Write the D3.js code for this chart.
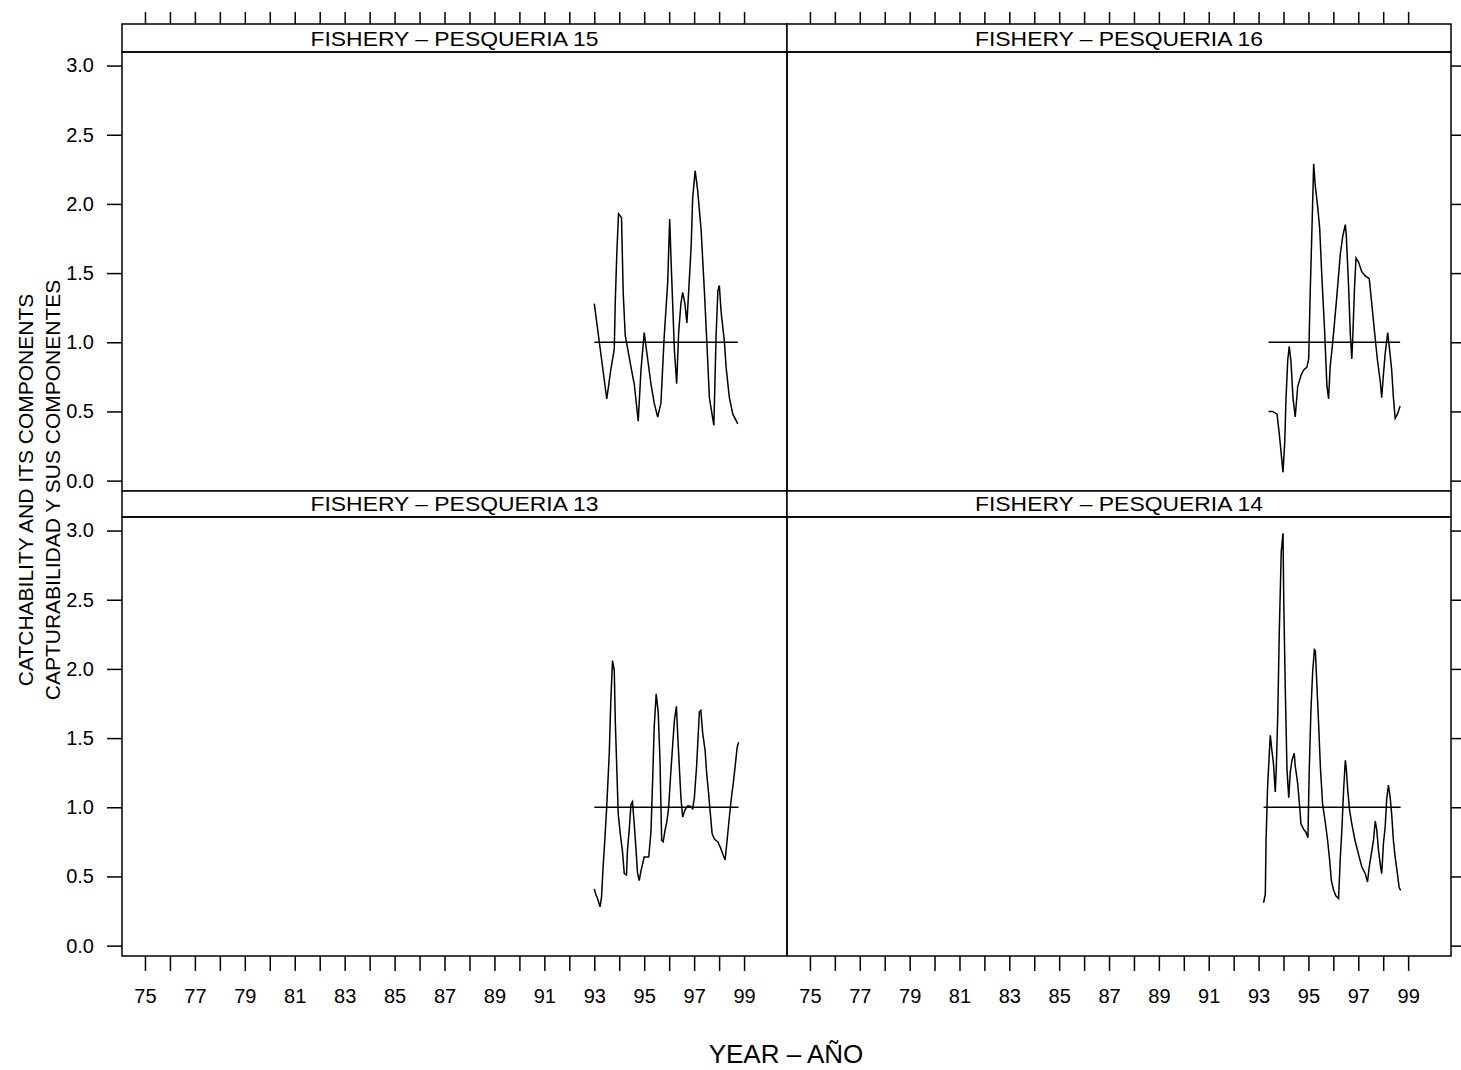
<!DOCTYPE html>
<html>
<head>
<meta charset="utf-8">
<script src="https://cdn.jsdelivr.net/npm/d3@7"></script>
<style>
  body { margin: 0; background: #fff; }
  svg { display: block; }
  text { font-family: "Liberation Sans", Arial, Helvetica, sans-serif; fill: #000; }
</style>
</head>
<body>
<svg id="chart" width="1461" height="1070"></svg>
<script>
// ---- data -------------------------------------------------------------
const yearTicks  = d3.range(75, 100);                       // one tick per year
const yearLabels = ["75","77","79","81","83","85","87","89","91","93","95","97","99"];
const valueTicks = [0, 0.5, 1, 1.5, 2, 2.5, 3];
const referenceLevel = 1.0;

// Catchability by fishery: time (year, two digits) and value
const t15 = [93.00,93.50,93.66,93.80,93.84,93.90,93.97,94.09,94.16,94.24,94.47,94.60,94.76,94.87,95.00,95.13,95.27,95.40,95.54,95.67,95.80,95.94,96.02,96.08,96.21,96.30,96.38,96.47,96.54,96.63,96.71,96.88,96.94,97.04,97.14,97.28,97.41,97.52,97.61,97.79,97.88,97.95,98.01,98.08,98.21,98.28,98.41,98.55,98.75];
const q15 = [1.28,0.59,0.80,0.95,1.29,1.63,1.93,1.90,1.35,1.05,0.82,0.70,0.43,0.80,1.07,0.89,0.70,0.56,0.46,0.56,1.04,1.43,1.89,1.57,0.94,0.70,1.07,1.28,1.36,1.28,1.14,1.69,2.04,2.24,2.10,1.81,1.37,0.96,0.60,0.40,1.05,1.37,1.41,1.22,1.01,0.82,0.60,0.48,0.41];

const t16 = [93.40,93.56,93.74,93.83,93.90,93.98,94.05,94.10,94.17,94.23,94.30,94.38,94.47,94.57,94.70,94.81,94.94,95.01,95.07,95.14,95.21,95.27,95.37,95.45,95.54,95.65,95.74,95.81,95.87,95.98,96.10,96.18,96.28,96.38,96.48,96.52,96.61,96.68,96.74,96.78,96.85,96.91,97.01,97.14,97.28,97.44,97.54,97.65,97.77,97.88,97.94,98.01,98.08,98.18,98.25,98.34,98.41,98.48,98.57,98.68];
const q16 = [0.50,0.50,0.48,0.34,0.21,0.06,0.28,0.59,0.87,0.97,0.86,0.60,0.46,0.68,0.76,0.80,0.82,0.88,1.35,1.81,2.29,2.14,1.98,1.83,1.47,1.08,0.69,0.59,0.82,1.01,1.25,1.42,1.64,1.77,1.85,1.77,1.41,1.06,0.88,1.04,1.40,1.61,1.58,1.51,1.48,1.46,1.28,1.08,0.87,0.72,0.60,0.77,0.92,1.07,0.96,0.80,0.60,0.45,0.48,0.54];

const t13 = [93.00,93.06,93.13,93.23,93.29,93.35,93.42,93.50,93.60,93.66,93.73,93.80,93.84,93.90,93.96,94.04,94.13,94.20,94.29,94.33,94.40,94.47,94.53,94.60,94.67,94.73,94.80,94.87,95.00,95.18,95.27,95.34,95.40,95.48,95.56,95.63,95.70,95.76,95.83,95.91,95.98,96.05,96.14,96.21,96.29,96.34,96.41,96.47,96.54,96.63,96.74,96.83,96.94,97.01,97.10,97.21,97.27,97.34,97.44,97.50,97.58,97.65,97.72,97.81,97.95,98.05,98.15,98.24,98.32,98.39,98.48,98.57,98.64,98.72,98.78];
const q13 = [0.41,0.37,0.34,0.28,0.35,0.56,0.76,1.01,1.39,1.76,2.06,1.99,1.63,1.29,0.95,0.81,0.68,0.52,0.51,0.69,0.84,1.02,1.04,0.88,0.70,0.53,0.47,0.54,0.64,0.64,0.82,1.21,1.58,1.82,1.69,1.35,0.76,0.75,0.83,0.90,1.00,1.21,1.45,1.63,1.73,1.53,1.28,1.07,0.93,0.98,1.01,1.01,0.99,1.07,1.30,1.69,1.70,1.54,1.41,1.25,1.10,0.95,0.81,0.77,0.75,0.71,0.66,0.62,0.76,0.89,1.05,1.18,1.29,1.43,1.47];

const t14 = [93.20,93.27,93.30,93.36,93.43,93.47,93.54,93.60,93.67,93.71,93.77,93.83,93.91,93.98,94.01,94.07,94.14,94.21,94.27,94.34,94.43,94.47,94.57,94.65,94.70,94.81,94.90,94.98,95.03,95.10,95.17,95.24,95.28,95.34,95.41,95.48,95.57,95.67,95.77,95.85,95.92,96.01,96.10,96.21,96.28,96.34,96.41,96.48,96.52,96.57,96.65,96.74,96.87,97.01,97.14,97.28,97.37,97.44,97.52,97.61,97.68,97.74,97.81,97.88,97.94,98.01,98.08,98.14,98.21,98.28,98.34,98.41,98.48,98.57,98.64,98.70];
const q14 = [0.31,0.37,0.76,1.14,1.39,1.52,1.40,1.31,1.11,1.28,1.67,2.26,2.85,2.98,2.49,1.87,1.27,1.07,1.25,1.34,1.39,1.30,1.17,1.00,0.88,0.84,0.82,0.78,1.25,1.70,1.98,2.14,2.13,1.88,1.60,1.29,1.02,0.90,0.76,0.62,0.47,0.40,0.36,0.34,0.64,0.83,1.12,1.34,1.28,1.14,0.98,0.88,0.76,0.66,0.57,0.52,0.46,0.57,0.66,0.76,0.90,0.84,0.69,0.59,0.52,0.74,0.86,1.06,1.16,1.07,0.95,0.76,0.64,0.52,0.42,0.40];

const panelNames = ["FISHERY \u2013 PESQUERIA 15", "FISHERY \u2013 PESQUERIA 16",
                    "FISHERY \u2013 PESQUERIA 13", "FISHERY \u2013 PESQUERIA 14"];
const yTitle1 = "CATCHABILITY AND ITS COMPONENTS";
const yTitle2 = "CAPTURABILIDAD Y SUS COMPONENTES";
const xTitle  = "YEAR \u2013 A\u00D1O";

// ---- layout -----------------------------------------------------------
const svg = d3.select("#chart");
const colX = [122, 787, 1451];                 // panel column edges
const rows = [                                  // strip top, plot top, plot bottom
  { stripTop: 24,  plotTop: 52,  plotBottom: 491 },
  { stripTop: 491, plotTop: 517, plotBottom: 956 }
];
const xDomain = [74.08, 100.72];
const yDomain = [-0.075, 3.098];
const LW = 1.5;

const panels = [
  { name: panelNames[0], t: t15, q: q15, col: 0, row: 0 },
  { name: panelNames[1], t: t16, q: q16, col: 1, row: 0 },
  { name: panelNames[2], t: t13, q: q13, col: 0, row: 1 },
  { name: panelNames[3], t: t14, q: q14, col: 1, row: 1 }
];

const labelSet = new Set(yearLabels);
const fmtYear = d => labelSet.has(String(d)) ? String(d) : "";

function styleAxis(g, fontSize) {
  g.select(".domain").remove();
  g.selectAll(".tick line").attr("stroke", "#000").attr("stroke-width", LW);
  g.selectAll(".tick text").attr("font-size", fontSize).attr("font-family", null).attr("fill", "#000");
}

panels.forEach(p => {
  const x0 = colX[p.col], x1 = colX[p.col + 1];
  const r = rows[p.row];
  const x = d3.scaleLinear().domain(xDomain).range([x0, x1]);
  const y = d3.scaleLinear().domain(yDomain).range([r.plotBottom, r.plotTop]);
  const g = svg.append("g");

  // strip
  g.append("rect")
    .attr("x", x0).attr("y", r.stripTop)
    .attr("width", x1 - x0).attr("height", r.plotTop - r.stripTop)
    .attr("fill", "#fff").attr("stroke", "#000").attr("stroke-width", LW);
  g.append("text")
    .attr("x", (x0 + x1) / 2)
    .attr("y", r.plotTop - (p.row === 0 ? 6.5 : 6))
    .attr("text-anchor", "middle")
    .attr("font-size", 21)
    .attr("textLength", 288).attr("lengthAdjust", "spacingAndGlyphs")
    .text(p.name);

  // reference level across the span of the series
  const ext = d3.extent(p.t);
  g.append("line")
    .attr("x1", x(ext[0])).attr("x2", x(ext[1]))
    .attr("y1", y(referenceLevel)).attr("y2", y(referenceLevel))
    .attr("stroke", "#000").attr("stroke-width", LW);

  // series
  const line = d3.line().x((d, i) => x(p.t[i])).y(d => y(d));
  g.append("path")
    .attr("d", line(p.q))
    .attr("fill", "none").attr("stroke", "#000")
    .attr("stroke-width", LW).attr("stroke-linejoin", "miter");

  // panel frame
  g.append("rect")
    .attr("x", x0).attr("y", r.plotTop)
    .attr("width", x1 - x0).attr("height", r.plotBottom - r.plotTop)
    .attr("fill", "none").attr("stroke", "#000").attr("stroke-width", LW);

  // value axis on the outer sides
  if (p.col === 0) {
    const ax = svg.append("g").attr("transform", `translate(${x0},0)`)
      .call(d3.axisLeft(y).tickValues(valueTicks).tickFormat(d3.format(".1f"))
        .tickSize(15).tickPadding(13));
    styleAxis(ax, 20);
  } else {
    const ax = svg.append("g").attr("transform", `translate(${x1},0)`)
      .call(d3.axisRight(y).tickValues(valueTicks).tickFormat("").tickSize(10));
    styleAxis(ax, 20);
  }

  // year axis above the top row and below the bottom row
  if (p.row === 0) {
    const ax = svg.append("g").attr("transform", `translate(0,${r.stripTop})`)
      .call(d3.axisTop(x).tickValues(yearTicks).tickFormat("").tickSize(12));
    styleAxis(ax, 20);
  } else {
    const ax = svg.append("g").attr("transform", `translate(0,${r.plotBottom})`)
      .call(d3.axisBottom(x).tickValues(yearTicks).tickFormat(fmtYear)
        .tickSize(15).tickPadding(18));
    styleAxis(ax, 20);
  }
});

// axis titles
svg.append("text")
  .attr("transform", "translate(33,490) rotate(-90)")
  .attr("text-anchor", "middle").attr("font-size", 21)
  .text(yTitle1);
svg.append("text")
  .attr("transform", "translate(60,490) rotate(-90)")
  .attr("text-anchor", "middle").attr("font-size", 21)
  .text(yTitle2);
svg.append("text")
  .attr("x", 786).attr("y", 1063)
  .attr("text-anchor", "middle").attr("font-size", 26)
  .text(xTitle);
</script>
</body>
</html>
